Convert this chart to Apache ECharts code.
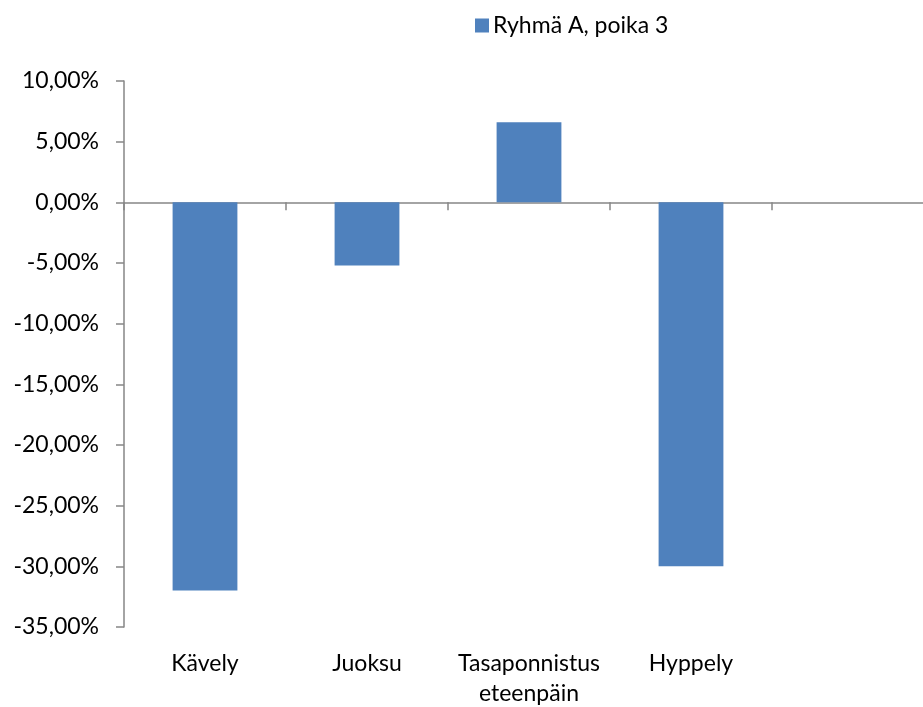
<!DOCTYPE html>
<html>
<head>
<meta charset="utf-8">
<script src="https://cdn.jsdelivr.net/npm/echarts@6/dist/echarts.min.js"></script>
<style>
  html, body { margin: 0; padding: 0; background: #ffffff; }
  #chart { width: 923px; height: 707px; }
</style>
</head>
<body>
<div id="chart"></div>
<script>
// Liikkeiden muutos prosentteina
const categories = ['Kävely', 'Juoksu', 'Tasaponnistus\neteenpäin', 'Hyppely', ''];
const seriesName = 'Ryhmä A, poika 3';
const values = [-32.0, -5.2, 6.6, -30.0, null];
const yMin = -35;
const yMax = 10;
const yStep = 5;

const FONT = 'Lato';
const FONT_SIZE = 23;
const axisGrey = '#868686';

const chart = echarts.init(document.getElementById('chart'), null, { renderer: 'canvas' });

chart.setOption({
  animation: false,
  backgroundColor: '#ffffff',
  textStyle: { fontFamily: FONT },
  legend: {
    data: [seriesName],
    left: 470,
    top: 9,
    itemWidth: 14,
    itemHeight: 14,
    itemGap: 8,
    icon: 'rect',
    textStyle: { fontFamily: FONT, fontSize: FONT_SIZE, color: '#000000', padding: [0, 0, 0, -1] }
  },
  grid: {
    left: 124, right: -11, top: 81, bottom: 80,
    containLabel: false,
    outerBoundsMode: 'none'
  },
  xAxis: [
    {
      // axis line and ticks drawn at zero
      type: 'category',
      data: categories,
      position: 'bottom',
      axisLine: { show: true, onZero: true, lineStyle: { color: axisGrey, width: 1.5 } },
      axisTick: { show: true, length: 8, lineStyle: { color: axisGrey, width: 1.5 } },
      axisLabel: { show: false },
      splitLine: { show: false }
    },
    {
      // category names at the bottom of the plot area
      type: 'category',
      data: categories,
      position: 'bottom',
      axisLine: { show: false, onZero: false },
      axisTick: { show: false },
      axisLabel: {
        show: true,
        interval: 0,
        margin: 22,
        fontFamily: FONT,
        fontSize: FONT_SIZE,
        lineHeight: 30,
        color: '#000000',
        align: 'center'
      },
      splitLine: { show: false }
    }
  ],
  yAxis: {
    type: 'value',
    min: yMin,
    max: yMax,
    interval: yStep,
    axisLine: { show: true, lineStyle: { color: axisGrey, width: 1.5 } },
    axisTick: { show: true, length: 8, lineStyle: { color: axisGrey, width: 1.5 } },
    axisLabel: {
      margin: 25,
      fontFamily: FONT,
      fontSize: FONT_SIZE,
      color: '#000000',
      formatter: v => v.toFixed(2).replace('.', ',') + '%'
    },
    splitLine: { show: false }
  },
  series: [
    {
      name: seriesName,
      type: 'bar',
      xAxisIndex: 0,
      data: values,
      barWidth: '40%',
      itemStyle: { color: '#4F81BD' }
    }
  ]
});
</script>
</body>
</html>
